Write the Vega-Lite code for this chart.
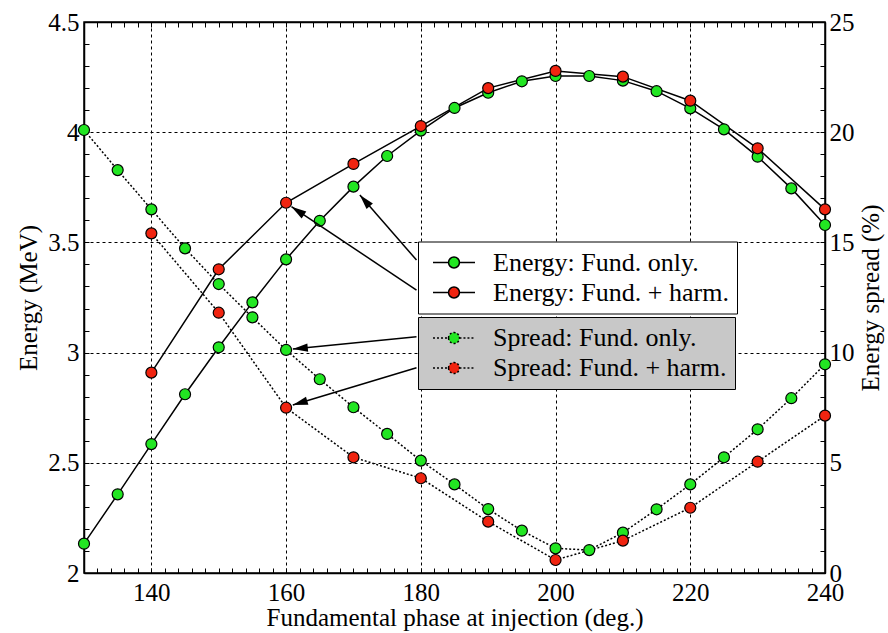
{
  "$schema": "https://vega.github.io/schema/vega-lite/v6.json",
  "width": 741,
  "height": 551,
  "autosize": {"type": "none"},
  "padding": {"left": 84, "top": 22, "right": 63, "bottom": 60},
  "background": "white",
  "config": {
    "font": "Liberation Serif",
    "view": {"stroke": "black", "strokeWidth": 1.5},
    "axis": {"labelFont": "Liberation Serif", "titleFont": "Liberation Serif"}
  },
  "datasets": {
    "energy": [
      {"phase": 130, "series": "Energy: Fund. only.", "energy": 2.133},
      {"phase": 135, "series": "Energy: Fund. only.", "energy": 2.357},
      {"phase": 140, "series": "Energy: Fund. only.", "energy": 2.585},
      {"phase": 145, "series": "Energy: Fund. only.", "energy": 2.811},
      {"phase": 150, "series": "Energy: Fund. only.", "energy": 3.024},
      {"phase": 155, "series": "Energy: Fund. only.", "energy": 3.228},
      {"phase": 160, "series": "Energy: Fund. only.", "energy": 3.423},
      {"phase": 165, "series": "Energy: Fund. only.", "energy": 3.598},
      {"phase": 170, "series": "Energy: Fund. only.", "energy": 3.753},
      {"phase": 175, "series": "Energy: Fund. only.", "energy": 3.892},
      {"phase": 180, "series": "Energy: Fund. only.", "energy": 4.007},
      {"phase": 185, "series": "Energy: Fund. only.", "energy": 4.110},
      {"phase": 190, "series": "Energy: Fund. only.", "energy": 4.179},
      {"phase": 195, "series": "Energy: Fund. only.", "energy": 4.231},
      {"phase": 200, "series": "Energy: Fund. only.", "energy": 4.255},
      {"phase": 205, "series": "Energy: Fund. only.", "energy": 4.255},
      {"phase": 210, "series": "Energy: Fund. only.", "energy": 4.234},
      {"phase": 215, "series": "Energy: Fund. only.", "energy": 4.186},
      {"phase": 220, "series": "Energy: Fund. only.", "energy": 4.108},
      {"phase": 225, "series": "Energy: Fund. only.", "energy": 4.013},
      {"phase": 230, "series": "Energy: Fund. only.", "energy": 3.889},
      {"phase": 235, "series": "Energy: Fund. only.", "energy": 3.745},
      {"phase": 240, "series": "Energy: Fund. only.", "energy": 3.579},
      {"phase": 140, "series": "Energy: Fund. + harm.", "energy": 2.909},
      {"phase": 150, "series": "Energy: Fund. + harm.", "energy": 3.378},
      {"phase": 160, "series": "Energy: Fund. + harm.", "energy": 3.680},
      {"phase": 170, "series": "Energy: Fund. + harm.", "energy": 3.856},
      {"phase": 180, "series": "Energy: Fund. + harm.", "energy": 4.028},
      {"phase": 190, "series": "Energy: Fund. + harm.", "energy": 4.200},
      {"phase": 200, "series": "Energy: Fund. + harm.", "energy": 4.278},
      {"phase": 210, "series": "Energy: Fund. + harm.", "energy": 4.252},
      {"phase": 220, "series": "Energy: Fund. + harm.", "energy": 4.143},
      {"phase": 230, "series": "Energy: Fund. + harm.", "energy": 3.927},
      {"phase": 240, "series": "Energy: Fund. + harm.", "energy": 3.650}
    ],
    "spread": [
      {"phase": 130, "series": "Spread: Fund. only.", "spread": 20.1},
      {"phase": 135, "series": "Spread: Fund. only.", "spread": 18.28},
      {"phase": 140, "series": "Spread: Fund. only.", "spread": 16.5},
      {"phase": 145, "series": "Spread: Fund. only.", "spread": 14.73},
      {"phase": 150, "series": "Spread: Fund. only.", "spread": 13.11},
      {"phase": 155, "series": "Spread: Fund. only.", "spread": 11.6},
      {"phase": 160, "series": "Spread: Fund. only.", "spread": 10.12},
      {"phase": 165, "series": "Spread: Fund. only.", "spread": 8.79},
      {"phase": 170, "series": "Spread: Fund. only.", "spread": 7.52},
      {"phase": 175, "series": "Spread: Fund. only.", "spread": 6.31},
      {"phase": 180, "series": "Spread: Fund. only.", "spread": 5.10},
      {"phase": 185, "series": "Spread: Fund. only.", "spread": 4.02},
      {"phase": 190, "series": "Spread: Fund. only.", "spread": 2.90},
      {"phase": 195, "series": "Spread: Fund. only.", "spread": 1.92},
      {"phase": 200, "series": "Spread: Fund. only.", "spread": 1.12},
      {"phase": 205, "series": "Spread: Fund. only.", "spread": 1.04},
      {"phase": 210, "series": "Spread: Fund. only.", "spread": 1.83},
      {"phase": 215, "series": "Spread: Fund. only.", "spread": 2.89},
      {"phase": 220, "series": "Spread: Fund. only.", "spread": 4.02},
      {"phase": 225, "series": "Spread: Fund. only.", "spread": 5.25},
      {"phase": 230, "series": "Spread: Fund. only.", "spread": 6.52},
      {"phase": 235, "series": "Spread: Fund. only.", "spread": 7.93},
      {"phase": 240, "series": "Spread: Fund. only.", "spread": 9.47},
      {"phase": 140, "series": "Spread: Fund. + harm.", "spread": 15.41},
      {"phase": 150, "series": "Spread: Fund. + harm.", "spread": 11.81},
      {"phase": 160, "series": "Spread: Fund. + harm.", "spread": 7.50},
      {"phase": 170, "series": "Spread: Fund. + harm.", "spread": 5.25},
      {"phase": 180, "series": "Spread: Fund. + harm.", "spread": 4.30},
      {"phase": 190, "series": "Spread: Fund. + harm.", "spread": 2.33},
      {"phase": 200, "series": "Spread: Fund. + harm.", "spread": 0.59},
      {"phase": 210, "series": "Spread: Fund. + harm.", "spread": 1.47},
      {"phase": 220, "series": "Spread: Fund. + harm.", "spread": 2.96},
      {"phase": 230, "series": "Spread: Fund. + harm.", "spread": 5.05},
      {"phase": 240, "series": "Spread: Fund. + harm.", "spread": 7.14}
    ],
    "arrows": [
      {"from_phase": 179.36, "from_energy": 3.420, "to_phase": 170.95, "to_energy": 3.715, "angle": 318.9},
      {"from_phase": 179.36, "from_energy": 3.284, "to_phase": 160.8, "to_energy": 3.662, "angle": 303.7},
      {"from_phase": 179.36, "from_energy": 3.072, "to_phase": 161.0, "to_energy": 3.016, "angle": 264.3},
      {"from_phase": 179.36, "from_energy": 2.931, "to_phase": 161.0, "to_energy": 2.762, "angle": 253.2}
    ]
  },
  "layer": [
    {
      "data": {"name": "energy"},
      "layer": [
        {
          "mark": {"type": "line", "color": "black", "strokeWidth": 1.5},
          "encoding": {
            "x": {
              "field": "phase", "type": "quantitative",
              "scale": {"domain": [130, 240], "nice": false, "zero": false},
              "axis": {
                "title": "Fundamental phase at injection (deg.)",
                "values": [130,132,134,136,138,140,142,144,146,148,150,152,154,156,158,160,162,164,166,168,170,172,174,176,178,180,182,184,186,188,190,192,194,196,198,200,202,204,206,208,210,212,214,216,218,220,222,224,226,228,230,232,234,236,238,240],
                "tickCount": 200,
                "format": "d",
                "labelExpr": "datum.value % 20 === 0 ? datum.label : ''",
                "labelFont": {"condition": {"test": "true", "value": "Liberation Serif"}, "value": "Liberation Serif"},
                "labelFontSize": 25,
                "labelColor": "black",
                "labelOverlap": false,
                "labelFlush": false,
                "labelBound": false,
                "labels": true,
                "ticks": true,
                "domain": true,
                "titleFont": "Liberation Serif",
                "titleFontSize": 25,
                "titleFontWeight": "normal",
                "titleColor": "black",
                "domainColor": "black",
                "domainWidth": 1.5,
                "tickColor": "black",
                "tickWidth": 1,
                "tickSize": -5,
                "labelPadding": 12,
                "titlePadding": 0,
                "grid": true,
                "gridColor": "black",
                "gridDash": [3, 3],
                "gridWidth": 1,
                "gridOpacity": {"condition": {"test": "datum.value % 20 === 0 && datum.value < 240", "value": 1}, "value": 0}
              }
            },
            "y": {
              "field": "energy", "type": "quantitative",
              "scale": {"domain": [2, 4.5], "nice": false, "zero": false},
              "axis": {
                "title": "Energy (MeV)",
                "values": [2,2.1,2.2,2.3,2.4,2.5,2.6,2.7,2.8,2.9,3,3.1,3.2,3.3,3.4,3.5,3.6,3.7,3.8,3.9,4,4.1,4.2,4.3,4.4,4.5],
                "tickCount": 200,
                "format": ".2~f",
                "labelExpr": "abs(datum.value * 2 - round(datum.value * 2)) < 0.001 ? datum.label : ''",
                "labelFont": {"condition": {"test": "true", "value": "Liberation Serif"}, "value": "Liberation Serif"},
                "labelFontSize": 25,
                "labelColor": "black",
                "labelOverlap": false,
                "labelFlush": false,
                "labelBound": false,
                "labels": true,
                "ticks": true,
                "domain": true,
                "titleFont": "Liberation Serif",
                "titleFontSize": 25,
                "titleFontWeight": "normal",
                "titleColor": "black",
                "domainColor": "black",
                "domainWidth": 1.5,
                "tickColor": "black",
                "tickWidth": 1,
                "tickSize": -5,
                "labelPadding": 10,
                "titlePadding": 6,
                "grid": true,
                "gridColor": "black",
                "gridDash": [3, 3],
                "gridWidth": 1,
                "gridOpacity": {"condition": {"test": "abs(datum.value * 2 - round(datum.value * 2)) < 0.001 && datum.value > 2.05 && datum.value < 4.45", "value": 1}, "value": 0}
              }
            },
            "detail": {"field": "series"}
          }
        },
        {
          "mark": {"type": "point", "shape": "circle", "filled": true, "size": 121, "stroke": "black", "strokeWidth": 1.2, "opacity": 1},
          "encoding": {
            "x": {"field": "phase", "type": "quantitative", "scale": {"domain": [130, 240], "nice": false, "zero": false}},
            "y": {"field": "energy", "type": "quantitative", "scale": {"domain": [2, 4.5], "nice": false, "zero": false}},
            "fill": {
              "field": "series", "type": "nominal",
              "scale": {"domain": ["Energy: Fund. only.", "Energy: Fund. + harm."], "range": ["#22e622", "#f02410"]},
              "legend": {
                "title": null,
                "orient": "none",
                "legendX": 334,
                "legendY": 219.5,
                "fillColor": "white",
                "strokeColor": "black",
                "padding": 8,
                "symbolType": "M-2,0H-0.52M0.52,0H2M-0.52,0A0.52,0.52 0 1,1 0.52,0A0.52,0.52 0 1,1 -0.52,0Z",
                "symbolSize": 441,
                "symbolStrokeColor": "black",
                "symbolStrokeWidth": 1.5,
                "symbolOpacity": 1,
                "symbolOffset": 15,
                "labelOffset": 26,
                "labelFont": "Liberation Serif",
                "labelFontSize": 26,
                "labelColor": "black",
                "labelLimit": 400,
                "rowPadding": 4
              }
            }
          }
        },
        {
          "data": {"name": "arrows"},
          "mark": {"type": "rule", "color": "black", "strokeWidth": 1.5},
          "encoding": {
            "x": {"field": "from_phase", "type": "quantitative", "scale": {"domain": [130, 240], "nice": false, "zero": false}},
            "y": {"field": "from_energy", "type": "quantitative", "scale": {"domain": [2, 4.5], "nice": false, "zero": false}},
            "x2": {"field": "to_phase"},
            "y2": {"field": "to_energy"}
          }
        },
        {
          "data": {"name": "arrows"},
          "mark": {"type": "point", "shape": "M0,0L-0.28,1L0.28,1Z", "filled": true, "size": 900, "color": "black", "opacity": 1},
          "encoding": {
            "x": {"field": "to_phase", "type": "quantitative", "scale": {"domain": [130, 240], "nice": false, "zero": false}},
            "y": {"field": "to_energy", "type": "quantitative", "scale": {"domain": [2, 4.5], "nice": false, "zero": false}},
            "angle": {"field": "angle", "type": "quantitative", "scale": null}
          }
        }
      ]
    },
    {
      "data": {"name": "spread"},
      "layer": [
        {
          "mark": {"type": "line", "color": "black", "strokeWidth": 1.5, "strokeDash": [2, 2]},
          "encoding": {
            "x": {
              "field": "phase", "type": "quantitative",
              "scale": {"domain": [130, 240], "nice": false, "zero": false},
              "axis": {
                "orient": "top",
                "title": null,
                "labels": false,
                "ticks": true,
                "domain": true,
                "grid": false,
                "values": [130,132,134,136,138,140,142,144,146,148,150,152,154,156,158,160,162,164,166,168,170,172,174,176,178,180,182,184,186,188,190,192,194,196,198,200,202,204,206,208,210,212,214,216,218,220,222,224,226,228,230,232,234,236,238,240],
                "tickCount": 200,
                "domainColor": "black",
                "domainWidth": 1.5,
                "tickColor": "black",
                "tickWidth": 1,
                "tickSize": -5
              }
            },
            "y": {
              "field": "spread", "type": "quantitative",
              "scale": {"domain": [0, 25], "nice": false, "zero": false},
              "axis": {
                "orient": "right",
                "title": "Energy spread (%)",
                "titleAngle": 270,
                "titleBaseline": "top",
                "values": [0,1,2,3,4,5,6,7,8,9,10,11,12,13,14,15,16,17,18,19,20,21,22,23,24,25],
                "tickCount": 200,
                "format": "d",
                "labelExpr": "datum.value % 5 === 0 ? datum.label : ''",
                "labelFont": {"condition": {"test": "true", "value": "Liberation Serif"}, "value": "Liberation Serif"},
                "labelFontSize": 25,
                "labelColor": "black",
                "labelOverlap": false,
                "labelFlush": false,
                "labelBound": false,
                "labels": true,
                "ticks": true,
                "domain": true,
                "titleFont": "Liberation Serif",
                "titleFontSize": 25,
                "titleFontWeight": "normal",
                "titleColor": "black",
                "domainColor": "black",
                "domainWidth": 1.5,
                "tickColor": "black",
                "tickWidth": 1,
                "tickSize": -5,
                "labelPadding": 9,
                "titlePadding": 4,
                "grid": false
              }
            },
            "detail": {"field": "series"}
          }
        },
        {
          "mark": {"type": "point", "shape": "circle", "filled": true, "size": 121, "stroke": "black", "strokeWidth": 1.2, "opacity": 1},
          "encoding": {
            "x": {"field": "phase", "type": "quantitative", "scale": {"domain": [130, 240], "nice": false, "zero": false}},
            "y": {"field": "spread", "type": "quantitative", "scale": {"domain": [0, 25], "nice": false, "zero": false}},
            "fill": {
              "field": "series", "type": "nominal",
              "scale": {"domain": ["Spread: Fund. only.", "Spread: Fund. + harm."], "range": ["#22e622", "#f02410"]},
              "legend": {
                "title": null,
                "orient": "none",
                "legendX": 334,
                "legendY": 295,
                "fillColor": "#c8c8c8",
                "strokeColor": "black",
                "padding": 8,
                "symbolType": "M-2,0H-0.52M0.52,0H2M-0.52,0A0.52,0.52 0 1,1 0.52,0A0.52,0.52 0 1,1 -0.52,0Z",
                "symbolSize": 441,
                "symbolStrokeColor": "black",
                "symbolStrokeWidth": 1.5,
                "symbolDash": [2, 2],
                "symbolOpacity": 1,
                "symbolOffset": 15,
                "labelOffset": 26,
                "labelFont": "Liberation Serif",
                "labelFontSize": 26,
                "labelColor": "black",
                "labelLimit": 400,
                "rowPadding": 4
              }
            }
          }
        }
      ]
    }
  ],
  "resolve": {
    "scale": {"y": "independent", "fill": "independent"},
    "axis": {"x": "independent", "y": "independent"}
  }
}
